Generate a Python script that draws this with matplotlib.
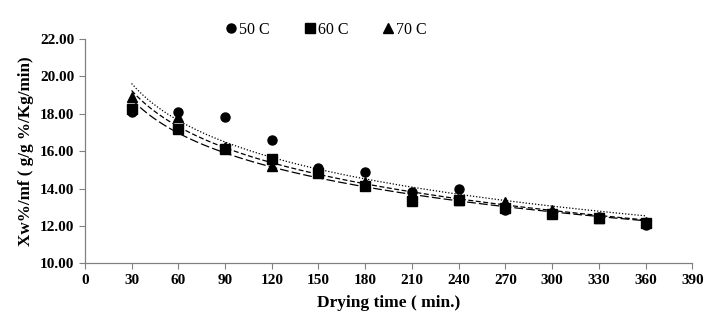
import numpy as np
import matplotlib
matplotlib.use('Agg')
import matplotlib.pyplot as plt

plt.rcParams['font.family'] = ['Liberation Serif', 'DejaVu Serif']

# Drying time (min.)
time = [30, 60, 90, 120, 150, 180, 210, 240, 270, 300, 330, 360]

# Xw%/mf values
xw_50 = [18.10, 18.10, 17.83, 16.62, 15.09, 14.89, 13.83, 13.95, 12.85, 12.70, 12.45, 12.05]
xw_60 = [18.28, 17.17, 16.14, 15.60, 14.84, 14.13, 13.33, 13.38, 12.98, 12.63, 12.40, 12.14]
xw_70 = [18.90, 17.80, 16.20, 15.20, 14.90, 14.36, 13.70, 13.40, 13.30, 12.85, 12.40, 12.20]

series = [
    ('50 C', xw_50, 'o', 6.5, (0, (1, 1.5))),
    ('60 C', xw_60, 's', 6.5, (0, (7, 2.5))),
    ('70 C', xw_70, '^', 7.0, (0, (4, 2))),
]

fig = plt.figure(figsize=(7.13, 3.25), dpi=100)
ax = fig.add_axes([0.119, 0.19, 0.852, 0.69])

t = np.array(time, dtype=float)
tt = np.linspace(30, 360, 200)
for label, vals, mk, ms, ls in series:
    # logarithmic trendline
    c1, c0 = np.polyfit(np.log(t), np.array(vals), 1)
    ax.plot(tt, c0 + c1 * np.log(tt), color='black', lw=0.9, linestyle=ls, zorder=2)

for label, vals, mk, ms, ls in series:
    ax.plot(time, vals, linestyle='none', marker=mk, markersize=ms,
            color='black', label=label, zorder=3)

ax.set_xlim(0, 390)
ax.set_ylim(10, 22)
ax.set_xticks(np.arange(0, 391, 30))
ax.set_yticks(np.arange(10, 22.1, 2))
ax.set_yticklabels(['%.2f' % v for v in np.arange(10, 22.1, 2)])
ax.tick_params(axis='both', labelsize=11, color='#808080', length=4, width=0.8)
for lab in ax.get_xticklabels() + ax.get_yticklabels():
    lab.set_fontweight('bold')

for s in ['top', 'right']:
    ax.spines[s].set_visible(False)
for s in ['left', 'bottom']:
    ax.spines[s].set_color('#808080')
    ax.spines[s].set_linewidth(0.9)

ax.set_xlabel('Drying time ( min.)', fontsize=12.5, fontweight='bold', labelpad=6)
ax.set_ylabel('Xw%/mf ( g/g %/Kg/min)', fontsize=12.3, fontweight='bold', labelpad=4)

ax.legend(loc='center', bbox_to_anchor=(0.395, 1.04), ncol=3, frameon=False,
          fontsize=11.5, handletextpad=0.0, columnspacing=2.0, handlelength=1.0)

fig.savefig('out.png', dpi=100)
